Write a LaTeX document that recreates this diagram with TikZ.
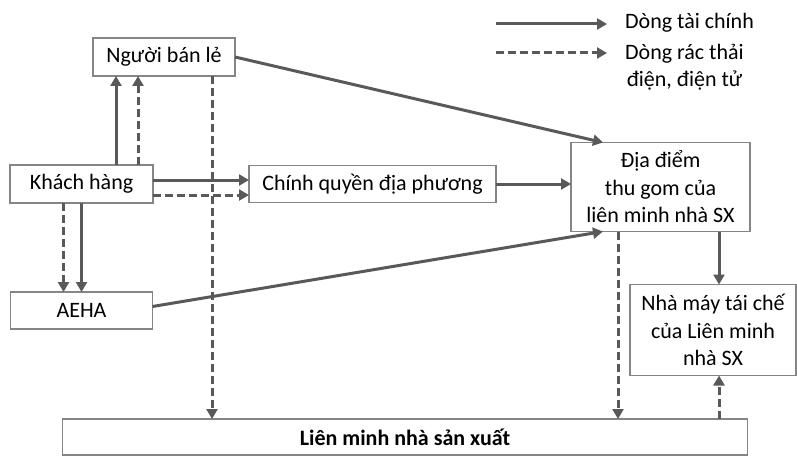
\documentclass[tikz,border=0pt]{standalone}
\usepackage{fontspec}
\setmainfont{Carlito}
\usepackage{xcolor}
\definecolor{linegray}{HTML}{595959}
\definecolor{boxgray}{HTML}{858585}
\usetikzlibrary{arrows.meta,positioning}

\begin{document}
\begin{tikzpicture}[x=1pt,y=1pt,inner sep=0pt,
  font=\fontsize{22}{27.5}\selectfont,
  box/.style={draw=boxgray,line width=1.5pt,outer sep=0pt,align=center},
  money/.style={draw=linegray,line width=3pt,-{Triangle[length=10pt,width=11pt]}},
  waste/.style={money,dash pattern=on 8pt off 4pt}]
\useasboundingbox (0,0) rectangle (797,456);

\node[box,minimum width=143pt,minimum height=38pt] (kh) at (81.5,272) {Khách hàng};
\node[box,minimum width=142pt,minimum height=38pt] (ret) [above=89pt of kh,xshift=82.5pt] {Người bán lẻ};
\node[box,minimum width=247pt,minimum height=37pt] (cq) [right=96pt of kh] {Chính quyền địa phương};
\node[box,minimum width=179pt,minimum height=89pt] (dd) [right=75pt of cq,yshift=-3pt] {Địa điểm\\thu gom của\\liên minh nhà SX};
\node[box,minimum width=142pt,minimum height=37pt] (aeha) [below=89pt of kh] {AEHA};
\node[box,minimum width=166pt,minimum height=91pt] (nm) [below=53pt of dd,xshift=52.5pt] {Nhà máy tái chế\\của Liên minh\\nhà SX};
\node[box,minimum width=685pt,minimum height=36pt,font=\fontsize{22}{27.5}\selectfont\bfseries] (lm) [below=90pt of aeha,xshift=323.5pt] {Liên minh nhà sản xuất};

% legend
\node[anchor=west] (fin) at (625,433) {Dòng tài chính};
\node[anchor=west,align=center] (rac) at (625,389) {Dòng rác thải\\điện, điện tử};
\coordinate (l1) at (496,432);
\coordinate (l2) at (496,403);
\path (l1) edge [money] ([xshift=-18pt]fin.west |- l1);
\path (l2) edge [waste] ([xshift=-18pt]rac.west |- l2);

\path ([xshift=34.5pt]kh.north) edge [money] ([xshift=34.5pt]kh.north |- ret.south);
\path ([xshift=56.5pt]kh.north) edge [waste] ([xshift=56.5pt]kh.north |- ret.south);
\path ([xshift=48pt]ret.south) edge [waste] ([xshift=48pt]ret.south |- lm.north);
\path (ret.east) edge [money] ([xshift=32pt]dd.north west);
\path ([yshift=4pt]kh.east) edge [money] ([yshift=4pt]kh.east -| cq.west);
\path ([yshift=-11pt]kh.east) edge [waste] ([yshift=-11pt]kh.east -| cq.west);
\path (cq.east) edge [money] (cq.east -| dd.west);
\path ([xshift=-18pt]kh.south) edge [waste] ([xshift=-18pt]kh.south |- aeha.north);
\path (kh.south) edge [money] (kh.south |- aeha.north);
\path ([yshift=4pt]aeha.east) edge [money] ([xshift=32pt]dd.south west);
\path ([xshift=-42.5pt]dd.south) edge [waste] ([xshift=-42.5pt]dd.south |- lm.north);
\path ([xshift=58.5pt]dd.south) edge [money] ([xshift=58.5pt]dd.south |- nm.north);
\path ([xshift=6pt]nm.south |- lm.north) edge [waste] ([xshift=6pt]nm.south);

\end{tikzpicture}
\end{document}
